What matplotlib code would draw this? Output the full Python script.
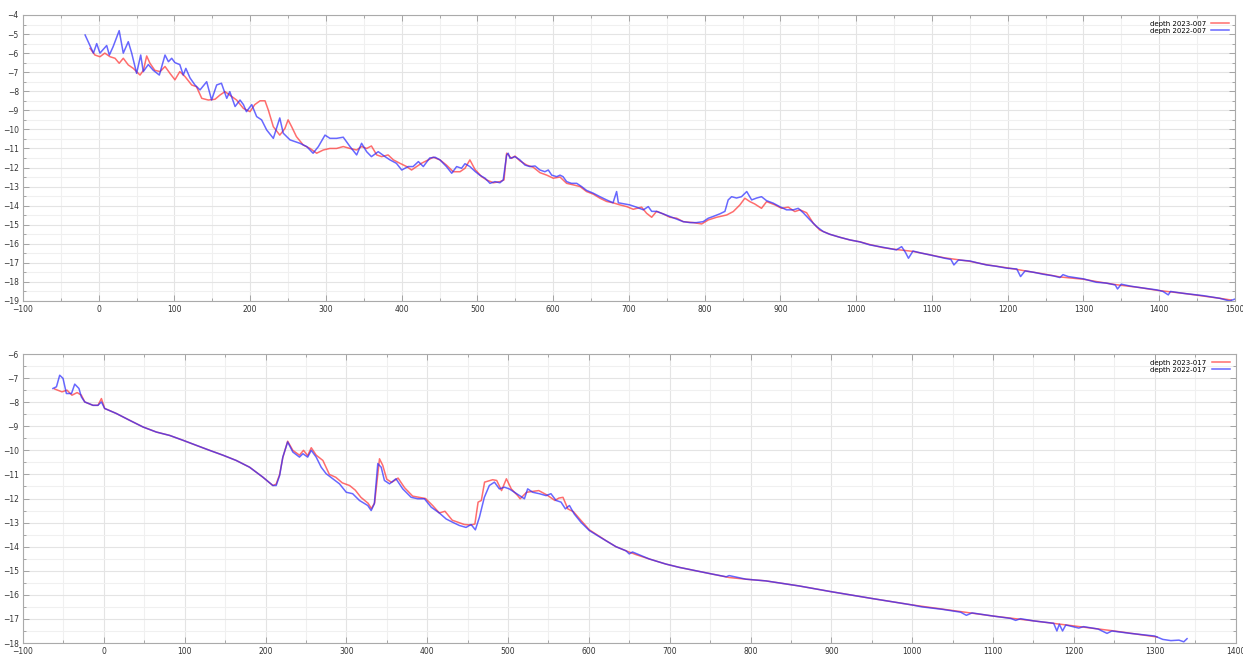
import matplotlib
matplotlib.use('Agg')
import matplotlib.pyplot as plt
from matplotlib.ticker import MultipleLocator

# profile 007 (top panel), (distance, depth)
depth_007_2022 = [
    (-18, -5.05), (-7, -6.0), (-2.7, -5.5), (1.6, -6.0), (10.5, -5.6), (14, -6.1), (19, -5.66),
    (27, -4.82), (32.4, -6.0), (39, -5.4), (43.5, -6.0), (50, -7.06), (55.4, -6.1), (58.8, -6.97),
    (65.4, -6.6), (72, -6.9), (80, -7.15), (87.5, -6.1), (92, -6.45), (96.3, -6.27), (100.6, -6.5),
    (107, -6.6), (111.6, -7.15), (115, -6.8), (120.5, -7.3), (127, -7.67), (133.7, -7.93),
    (142.5, -7.5), (149, -8.46), (155.7, -7.67), (162, -7.58), (169, -8.37), (173, -8.02),
    (180, -8.8), (186.5, -8.46), (191, -8.7), (195, -9.07), (202, -8.7), (208.5, -9.33),
    (215, -9.5), (221.7, -10.03), (230.5, -10.47), (239, -9.4), (243.6, -10.2), (252.5, -10.55),
    (265.6, -10.73), (274.5, -10.9), (283, -11.25), (290, -10.9), (298.7, -10.3), (305.3, -10.47),
    (314, -10.47), (322.8, -10.41), (331.7, -10.9), (340.5, -11.34), (347, -10.73),
    (353.7, -11.17), (360, -11.43), (369, -11.17), (378, -11.43), (384.5, -11.6), (393, -11.78),
    (400, -12.13), (408.6, -11.95), (415, -11.95), (422, -11.69), (428.5, -11.95), (437, -11.5),
    (444, -11.46), (450.5, -11.6), (459, -11.95), (466, -12.3), (472.5, -11.95), (479, -12.04),
    (483.5, -11.8), (490, -11.95), (496.7, -12.2), (503, -12.4), (510, -12.56), (516.5, -12.83),
    (523, -12.74), (529.7, -12.8), (534, -12.65), (538.5, -11.34), (540.6, -11.25),
    (543, -11.52), (549.5, -11.43), (556, -11.6), (562.7, -11.87), (569, -11.95), (576, -11.92),
    (582.5, -12.13), (589, -12.22), (593.5, -12.13), (598, -12.4), (604.6, -12.48), (609, -12.4),
    (613, -12.48), (617.7, -12.74), (624, -12.83), (631, -12.83), (637.5, -13.0), (644, -13.2),
    (653, -13.35), (661.7, -13.53), (670.5, -13.7), (679, -13.85), (683.7, -13.26),
    (686, -13.85), (692.5, -13.9), (701, -13.96), (710, -14.08), (719, -14.22), (725.5, -14.05),
    (730, -14.3), (736.5, -14.3), (745, -14.43), (754, -14.57), (763, -14.7), (771.7, -14.84),
    (780.5, -14.89), (789, -14.89), (798, -14.84), (804.7, -14.66), (811, -14.57),
    (820, -14.43), (826.7, -14.3), (831, -13.7), (835.5, -13.53), (842, -13.6), (848.6, -13.53),
    (855.5, -13.26), (862, -13.7), (868.6, -13.6), (875, -13.53), (881.7, -13.74),
    (890.5, -13.87), (899, -14.05), (908, -14.22), (917, -14.22), (923.5, -14.14),
    (930, -14.37), (939, -14.75), (947.8, -15.1), (956.5, -15.36), (965, -15.5),
    (978.5, -15.66), (992, -15.8), (1005, -15.9), (1018, -16.06), (1035, -16.18),
    (1053, -16.32), (1060, -16.15), (1065, -16.45), (1069, -16.76), (1075, -16.38),
    (1085, -16.48), (1097, -16.58), (1117, -16.76), (1125, -16.82), (1129, -17.11),
    (1135, -16.85), (1150, -16.9), (1160, -17.0), (1172, -17.11), (1185, -17.18),
    (1199, -17.28), (1212, -17.32), (1217, -17.72), (1223, -17.42), (1235, -17.5),
    (1247, -17.6), (1260, -17.68), (1269, -17.77), (1273, -17.62), (1280, -17.72),
    (1300, -17.84), (1317, -18.02), (1330, -18.06), (1342, -18.16), (1345, -18.37),
    (1350, -18.12), (1362, -18.22), (1375, -18.3), (1397, -18.42), (1405, -18.5),
    (1412, -18.68), (1415, -18.5), (1432, -18.6), (1445, -18.66), (1458, -18.72),
    (1480, -18.86), (1493, -19.0), (1500, -18.9),
]
depth_007_2023 = [
    (-11.5, -5.75), (-5, -6.1), (1.6, -6.19), (8, -6.0), (15, -6.19), (21.5, -6.27), (27, -6.53),
    (32.4, -6.27), (39, -6.62), (45.6, -6.8), (54.5, -7.15), (59, -6.9), (63.3, -6.15),
    (67.6, -6.53), (74, -6.9), (81, -6.97), (87.5, -6.7), (94, -7.06), (100.6, -7.4),
    (107, -6.97), (113.9, -7.23), (122.7, -7.67), (129, -7.76), (136, -8.37), (144.6, -8.46),
    (153.5, -8.42), (160, -8.2), (166.7, -8.02), (173, -8.2), (182, -8.46), (191, -8.9),
    (199.7, -9.07), (206, -8.7), (213, -8.5), (219.5, -8.5), (224, -9.0), (230.5, -9.86),
    (239, -10.3), (245.8, -9.95), (250, -9.5), (254.7, -9.86), (261, -10.38), (270, -10.82),
    (279, -11.0), (287.7, -11.25), (296.5, -11.08), (305, -11.0), (314, -11.0), (322.8, -10.9),
    (331.7, -11.0), (340.5, -11.08), (347, -10.9), (353.7, -11.0), (360, -10.87), (367, -11.34),
    (373.5, -11.43), (382, -11.34), (389, -11.6), (397.7, -11.78), (406.5, -11.95),
    (413, -12.13), (419.7, -11.95), (426, -11.78), (435, -11.6), (441.6, -11.46), (450.5, -11.6),
    (459, -11.87), (468, -12.22), (477, -12.22), (483.5, -12.04), (490, -11.6), (496.7, -12.1),
    (505.5, -12.48), (512, -12.65), (521, -12.8), (529.7, -12.74), (535, -12.65),
    (538.5, -11.25), (545, -11.52), (549.5, -11.4), (556, -11.65), (565, -11.87),
    (573.8, -11.99), (582.5, -12.27), (591.5, -12.4), (600, -12.56), (609, -12.5),
    (617.7, -12.83), (626.5, -12.91), (635.5, -13.0), (644, -13.26), (653, -13.4),
    (661.7, -13.61), (670.5, -13.78), (679, -13.85), (688, -13.96), (697, -14.05),
    (705.7, -14.19), (716.7, -14.08), (723.3, -14.4), (730, -14.61), (736.5, -14.3),
    (745, -14.43), (754, -14.61), (763, -14.66), (771.7, -14.84), (785, -14.89), (796, -14.96),
    (804.7, -14.75), (815.7, -14.61), (829, -14.49), (837.7, -14.31), (846.5, -13.96),
    (853, -13.61), (859.7, -13.79), (866, -13.91), (875, -14.14), (881.7, -13.79),
    (892.7, -13.96), (901.5, -14.14), (910.3, -14.08), (919, -14.31), (925.7, -14.22),
    (934.5, -14.37), (943.3, -14.92), (952, -15.28), (965, -15.5), (978.5, -15.66),
    (991.7, -15.8), (1005, -15.9), (1018, -16.04), (1035, -16.2), (1053, -16.3),
    (1075, -16.4), (1097, -16.58), (1117, -16.74), (1135, -16.84), (1150, -16.92),
    (1172, -17.1), (1199, -17.26), (1223, -17.42), (1247, -17.58), (1269, -17.74),
    (1300, -17.86), (1317, -17.98), (1342, -18.14), (1375, -18.3), (1397, -18.44),
    (1432, -18.6), (1458, -18.74), (1480, -18.86), (1495, -18.95),
]

# profile 017 (bottom panel)
depth_017_2022 = [
    (-63, -7.43), (-58.6, -7.36), (-54.6, -6.88), (-50.5, -7.01), (-46.3, -7.64), (-40, -7.64),
    (-36, -7.25), (-30.8, -7.43), (-27.8, -7.78), (-23.6, -7.99), (-13.4, -8.13), (-7.3, -8.13),
    (-3, -7.99), (1, -8.26), (15.5, -8.47), (31.8, -8.75), (48.5, -9.03), (65, -9.24),
    (81.4, -9.38), (97.8, -9.58), (114.2, -9.79), (130.9, -10.0), (147.3, -10.2),
    (163.8, -10.42), (180.3, -10.7), (196.6, -11.11), (209.1, -11.46), (213.2, -11.46),
    (217.5, -11.04), (221.4, -10.28), (227.4, -9.65), (233.8, -10.07), (242, -10.28),
    (246.3, -10.14), (252.2, -10.28), (256.6, -10.0), (262.7, -10.28), (268.9, -10.7),
    (275, -10.97), (283.3, -11.18), (291.5, -11.39), (299.9, -11.74), (307.8, -11.8),
    (316.2, -12.08), (326.5, -12.29), (330.7, -12.5), (334.6, -12.22), (338.9, -10.55),
    (343.1, -10.7), (347.1, -11.25), (353.4, -11.39), (361.4, -11.18), (369.8, -11.6),
    (380.2, -11.95), (388.3, -12.01), (396.6, -12.01), (405, -12.36), (415, -12.6),
    (423.5, -12.85), (431.7, -12.99), (439.9, -13.12), (448.1, -13.2), (454.3, -13.08),
    (459.6, -13.3), (464.6, -12.78), (470.7, -11.95), (476.9, -11.46), (483.2, -11.32),
    (489.3, -11.6), (495.5, -11.53), (501.5, -11.6), (507.9, -11.74), (514.1, -11.88),
    (520.3, -12.01), (524.3, -11.6), (530.6, -11.74), (538.8, -11.8), (547.1, -11.88),
    (553.1, -11.8), (559.4, -12.08), (565.6, -12.15), (571, -12.43), (576, -12.29),
    (581.9, -12.64), (590.3, -12.99), (600.6, -13.33), (610.7, -13.54), (621.2, -13.75),
    (633.5, -14.0), (645.9, -14.17), (650, -14.3), (654, -14.22), (674.7, -14.51),
    (695.1, -14.72), (712, -14.86), (732.4, -15.0), (753, -15.14), (770, -15.25),
    (773.5, -15.2), (794.4, -15.35), (818.9, -15.42), (860, -15.63), (900, -15.87),
    (950, -16.15), (1000, -16.42), (1012, -16.5), (1037, -16.6), (1060, -16.72),
    (1067, -16.85), (1074, -16.75), (1100, -16.88), (1122, -16.98), (1128, -17.06),
    (1134, -16.99), (1150, -17.08), (1165, -17.14), (1175, -17.18), (1179, -17.5),
    (1182, -17.22), (1186, -17.5), (1190, -17.25), (1206, -17.38), (1212, -17.32),
    (1230, -17.42), (1241, -17.6), (1247, -17.5), (1270, -17.6), (1300, -17.71),
    (1310, -17.85), (1320, -17.9), (1330, -17.88), (1336, -17.95), (1340, -17.82),
]
depth_017_2023 = [
    (-61, -7.45), (-51.8, -7.57), (-45.6, -7.5), (-39.4, -7.71), (-33, -7.6), (-27.8, -7.71),
    (-23.6, -7.99), (-13.4, -8.13), (-7.3, -8.13), (-3, -7.85), (1, -8.26), (15.5, -8.47),
    (31.8, -8.75), (48.5, -9.03), (65, -9.24), (81.4, -9.38), (97.8, -9.58), (114.2, -9.79),
    (130.9, -10.0), (147.3, -10.2), (163.8, -10.42), (180.3, -10.7), (196.6, -11.11),
    (209.1, -11.46), (213.2, -11.4), (217.5, -11.0), (221.4, -10.3), (227.4, -9.62),
    (233.8, -10.0), (242, -10.2), (247, -10.0), (252.2, -10.22), (256.6, -9.89), (262.7, -10.2),
    (271, -10.42), (279, -11.0), (287, -11.12), (295, -11.35), (304, -11.46), (311, -11.65),
    (318, -11.95), (327, -12.2), (331, -12.42), (335, -12.18), (341, -10.35), (345, -10.62),
    (350, -11.2), (356, -11.33), (364, -11.15), (372, -11.55), (382, -11.9), (390, -11.95),
    (398, -12.0), (407, -12.3), (415, -12.6), (422, -12.53), (431, -12.9), (446, -13.08),
    (454, -13.1), (459, -13.06), (463, -12.15), (467, -12.08), (471, -11.32), (481, -11.22),
    (486, -11.25), (492, -11.67), (498, -11.18), (504, -11.6), (512, -11.88), (515, -12.01),
    (523, -11.74), (538, -11.67), (548, -11.85), (558, -12.08), (563, -11.98), (568, -11.95),
    (574, -12.43), (581, -12.55), (590, -12.9), (600.6, -13.3), (610.7, -13.52),
    (621.2, -13.75), (633.5, -14.0), (645.9, -14.17), (658.4, -14.33), (674.7, -14.51),
    (695.1, -14.72), (712, -14.86), (732.4, -15.0), (753, -15.14), (773.5, -15.28),
    (794.4, -15.35), (818.9, -15.42), (860, -15.63), (900, -15.87), (950, -16.15),
    (1000, -16.42), (1050, -16.65), (1100, -16.88), (1150, -17.08), (1200, -17.29),
    (1250, -17.5), (1303, -17.75),
]

panels = [
    (depth_007_2023, depth_007_2022, 'depth 2023-007', 'depth 2022-007', (-100, 1500), (-19, -4)),
    (depth_017_2023, depth_017_2022, 'depth 2023-017', 'depth 2022-017', (-100, 1400), (-18, -6)),
]

fig = plt.figure(figsize=(12.43, 6.55), dpi=100)
rects = [[0.0185, 0.5405, 0.9750, 0.4366], [0.0185, 0.0183, 0.9755, 0.4412]]

for rect, (red, blue, lab_r, lab_b, xlim, ylim) in zip(rects, panels):
    ax = fig.add_axes(rect)
    xr, yr = zip(*red)
    xb, yb = zip(*blue)
    ax.plot(xr, yr, color='#ff3030', alpha=0.7, lw=1.1, label=lab_r)
    ax.plot(xb, yb, color='#2828ff', alpha=0.7, lw=1.1, label=lab_b)
    ax.set_xlim(*xlim)
    ax.set_ylim(*ylim)
    ax.xaxis.set_major_locator(MultipleLocator(100))
    ax.xaxis.set_minor_locator(MultipleLocator(50))
    ax.yaxis.set_major_locator(MultipleLocator(1))
    ax.yaxis.set_minor_locator(MultipleLocator(0.5))
    ax.grid(which='major', color='#e4e4e4', lw=0.8)
    ax.grid(which='minor', color='#f0f0f0', lw=0.8)
    ax.set_axisbelow(True)
    ax.tick_params(which='both', direction='in', top=True, right=True, colors='#999999',
                   labelcolor='#333333', labelsize=5.5, pad=3)
    ax.tick_params(which='major', length=4, width=0.6)
    ax.tick_params(which='minor', length=2, width=0.6)
    for sp in ax.spines.values():
        sp.set_color('#aaaaaa')
        sp.set_linewidth(0.8)
    ax.legend(loc='upper right', markerfirst=False, frameon=False, fontsize=5,
              handlelength=2.6, borderaxespad=0.4, labelspacing=0.15, handletextpad=0.8)

fig.savefig('out.png', dpi=100)
